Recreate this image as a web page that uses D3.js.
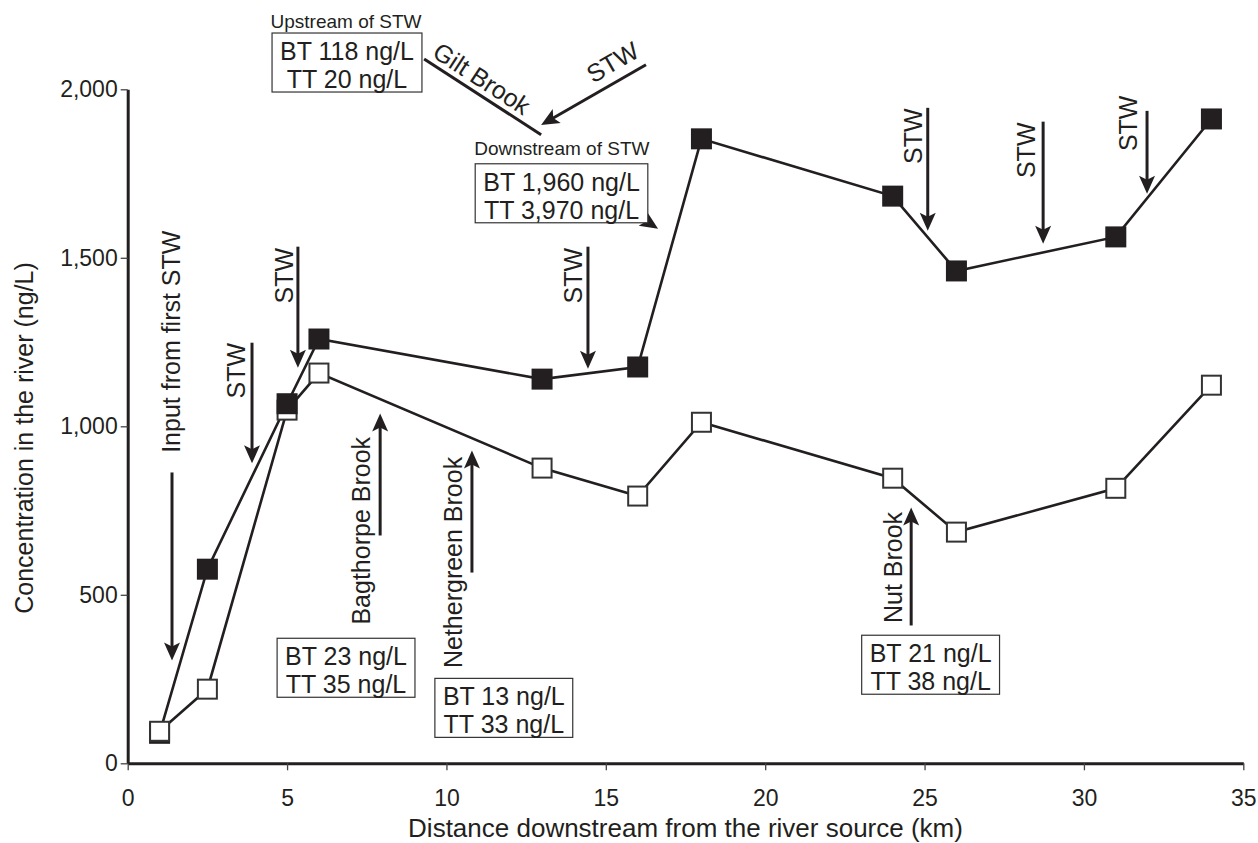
<!DOCTYPE html>
<html>
<head>
<meta charset="utf-8">
<script src="https://cdn.jsdelivr.net/npm/d3@7"></script>
<style>
  body { margin: 0; background: #fff; }
  text { font-family: "Liberation Sans", Arial, sans-serif; fill: #231f20; }
</style>
</head>
<body>
<svg id="svg" width="1258" height="843"></svg>
<script>
const width = 1258;
const height = 843;
const ink = '#231f20';
const markerSize = 21;

const paddings = {
	left: 127.7,
	top: 89.3,
	right: 14.7,
	bottom: 79.7
};

// sampling sites (km from source) and concentrations (ng/L)
const distances = [1, 2.5, 5, 6, 13, 16, 18, 24, 26, 31, 34];
const filledValues = [89, 576, 1067, 1259, 1140, 1176, 1853, 1683, 1461, 1562, 1912];
const openValues = [95, 220, 1048, 1158, 876, 793, 1012, 846, 686, 816, 1122];

const xTicks = [0, 5, 10, 15, 20, 25, 30, 35];
const yTicks = [0, 500, 1000, 1500, 2000];
const xTitle = 'Distance downstream from the river source (km)';
const yTitle = 'Concentration in the river (ng/L)';

// annotation arrows: [x start, y start, x tip, y tip] in km / ng/L
const arrows = [
	[1.39, 863, 1.39, 305],
	[3.9, 1248, 3.9, 890],
	[5.34, 1533, 5.34, 1174],
	[7.92, 676, 7.92, 1038],
	[10.8, 566, 10.8, 928],
	[14.44, 1533, 14.44, 1171],
	[25.1, 1945, 25.1, 1580],
	[28.72, 1904, 28.72, 1542],
	[31.98, 1936, 31.98, 1690],
	[24.58, 409, 24.58, 759],
	[16.26, 2073, 12.97, 1894],
	[15.86, 1634, 16.64, 1586]
];
const giltBrookLine = [9.30, 2090, 12.97, 1865];

// vertical labels: text, baseline x (km), centre y (ng/L)
const verticalLabels = [
	['Input from first STW', 1.63, 1251],
	['STW', 3.68, 1165],
	['STW', 5.19, 1447],
	['Bagthorpe Brook', 7.6, 690],
	['Nethergreen Brook', 10.49, 596],
	['STW', 14.25, 1447],
	['STW', 24.92, 1861],
	['STW', 28.46, 1819],
	['STW', 31.66, 1899],
	['Nut Brook', 24.29, 581]
];

// slanted labels: text, centre x, baseline y, angle
const slantLabels = [
	['Gilt Brook', 10.96, 2010, 33],
	['STW', 15.35, 2058, -30]
];

const headings = [
	['Upstream of STW', 6.85, 2182],
	['Downstream of STW', 13.62, 1806]
];

// boxed inputs: centre x (km), top (ng/L), lines
const boxes = [
	[6.88, 2167, ['BT 118 ng/L', 'TT 20 ng/L']],
	[13.61, 1779, ['BT 1,960 ng/L', 'TT 3,970 ng/L']],
	[6.85, 371, ['BT 23 ng/L', 'TT 35 ng/L']],
	[11.8, 252, ['BT 13 ng/L', 'TT 33 ng/L']],
	[25.19, 380, ['BT 21 ng/L', 'TT 38 ng/L']]
];

const svg = d3.select('#svg');
svg.append('rect').attr('width', width).attr('height', height).attr('fill', '#fff');

const xScale = d3.scaleLinear().domain([0, 35]).range([paddings.left, width - paddings.right]);
const yScale = d3.scaleLinear().domain([0, 2000]).range([height - paddings.bottom, paddings.top]);

generateAxis();
renderData();
renderAnnotations();

function styleAxis(g, fontSize) {
	g.attr('font-family', '"Liberation Sans", Arial, sans-serif').attr('font-size', fontSize);
	g.select('.domain').attr('stroke', ink).attr('stroke-width', 3);
	g.selectAll('.tick line').attr('stroke', '#444').attr('stroke-width', 1.3);
	g.selectAll('.tick text').attr('fill', ink);
}

function generateAxis() {
	const xAxis = d3.axisBottom(xScale).tickValues(xTicks).tickSize(7).tickSizeOuter(0).tickPadding(19);
	const yAxis = d3.axisLeft(yScale).tickValues(yTicks).tickSize(7).tickSizeOuter(0).tickPadding(3)
		.tickFormat(d3.format(','));

	svg.append('g')
		.attr('transform', 'translate(0,' + (height - paddings.bottom) + ')')
		.call(xAxis)
		.call(g => styleAxis(g, 23));

	svg.append('g')
		.attr('transform', 'translate(' + paddings.left + ',0)')
		.call(yAxis)
		.call(g => styleAxis(g, 23));

	svg.append('text')
		.attr('x', (xScale(0) + xScale(35)) / 2)
		.attr('y', 837)
		.attr('text-anchor', 'middle')
		.attr('font-size', 26)
		.text(xTitle);

	svg.append('text')
		.attr('transform', 'translate(33,438) rotate(-90)')
		.attr('text-anchor', 'middle')
		.attr('font-size', 25)
		.text(yTitle);
}

function renderData() {
	const line = d3.line()
		.x(d => xScale(d[0]))
		.y(d => yScale(d[1]));

	[filledValues, openValues].forEach(values => {
		svg.append('path')
			.attr('d', line(distances.map((d, i) => [d, values[i]])))
			.attr('fill', 'none')
			.attr('stroke', ink)
			.attr('stroke-width', 2.6);
	});

	const markers = distances.flatMap((d, i) => [
		{ x: d, v: filledValues[i], filled: true },
		{ x: d, v: openValues[i], filled: false }
	]).sort((a, b) => a.v - b.v);

	svg.selectAll(null)
		.data(markers)
		.enter()
		.append('rect')
		.attr('x', d => xScale(d.x) - (d.filled ? markerSize / 2 : markerSize / 2 - 1))
		.attr('y', d => yScale(d.v) - (d.filled ? markerSize / 2 : markerSize / 2 - 1))
		.attr('width', d => d.filled ? markerSize : markerSize - 2)
		.attr('height', d => d.filled ? markerSize : markerSize - 2)
		.attr('fill', d => d.filled ? ink : '#fff')
		.attr('stroke', d => d.filled ? 'none' : '#333')
		.attr('stroke-width', 2);
}

function renderAnnotations() {
	const g = svg.append('g');

	arrows.forEach(a => {
		const x1 = xScale(a[0]), y1 = yScale(a[1]);
		const x2 = xScale(a[2]), y2 = yScale(a[3]);
		const angle = Math.atan2(y2 - y1, x2 - x1);
		g.append('line')
			.attr('x1', x1).attr('y1', y1)
			.attr('x2', x2 - Math.cos(angle) * 12).attr('y2', y2 - Math.sin(angle) * 12)
			.attr('stroke', ink)
			.attr('stroke-width', 3);
		g.append('path')
			.attr('d', 'M0,0L-18,-8L-14,0L-18,8Z')
			.attr('transform', 'translate(' + x2 + ',' + y2 + ') rotate(' + (angle * 180 / Math.PI) + ')')
			.attr('fill', ink);
	});

	g.append('line')
		.attr('x1', xScale(giltBrookLine[0])).attr('y1', yScale(giltBrookLine[1]))
		.attr('x2', xScale(giltBrookLine[2])).attr('y2', yScale(giltBrookLine[3]))
		.attr('stroke', ink)
		.attr('stroke-width', 3);

	verticalLabels.forEach(l => {
		g.append('text')
			.attr('transform', 'translate(' + xScale(l[1]) + ',' + yScale(l[2]) + ') rotate(-90)')
			.attr('text-anchor', 'middle')
			.attr('font-size', 25)
			.text(l[0]);
	});

	slantLabels.forEach(l => {
		g.append('text')
			.attr('transform', 'translate(' + xScale(l[1]) + ',' + yScale(l[2]) + ') rotate(' + l[3] + ')')
			.attr('text-anchor', 'middle')
			.attr('font-size', 25)
			.text(l[0]);
	});

	headings.forEach(h => {
		g.append('text')
			.attr('x', xScale(h[1]))
			.attr('y', yScale(h[2]))
			.attr('text-anchor', 'middle')
			.attr('font-size', 19)
			.text(h[0]);
	});

	boxes.forEach(b => {
		const box = g.append('g')
			.attr('transform', 'translate(' + xScale(b[0]) + ',' + yScale(b[1]) + ')');
		const rect = box.append('rect');
		let maxWidth = 0;
		b[2].forEach((t, i) => {
			const txt = box.append('text')
				.attr('x', 0)
				.attr('y', 27 + i * 28)
				.attr('text-anchor', 'middle')
				.attr('font-size', 25)
				.text(t);
			maxWidth = Math.max(maxWidth, txt.node().getComputedTextLength());
		});
		rect.attr('x', -maxWidth / 2 - 8)
			.attr('y', 0)
			.attr('width', maxWidth + 16)
			.attr('height', 59)
			.attr('fill', '#fff')
			.attr('stroke', '#333')
			.attr('stroke-width', 1.2);
	});
}
</script>
</body>
</html>
